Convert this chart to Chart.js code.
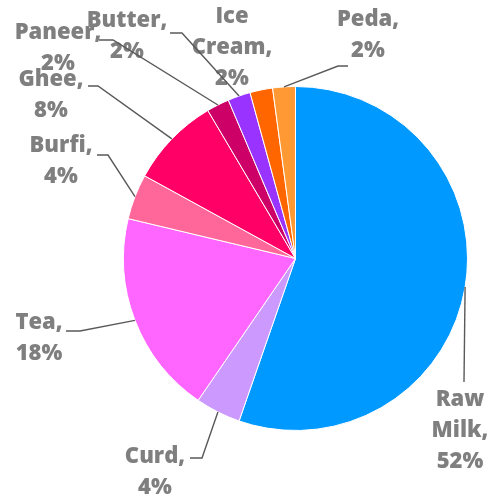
<!DOCTYPE html>
<html>
<head>
<meta charset="utf-8">
<script src="https://cdn.jsdelivr.net/npm/chart.js@4/dist/chart.umd.min.js"></script>
<style>
  body { margin: 0; background: #fff; }
  #wrap { width: 489px; height: 500px; }
</style>
</head>
<body>
<div id="wrap"><canvas id="milkChart" width="489" height="500"></canvas></div>
<script>
const categories = ["Raw Milk", "Curd", "Tea", "Burfi", "Ghee", "Paneer", "Butter", "Ice Cream", "Peda"];
const shares = [52, 4, 18, 4, 8, 2, 2, 2, 2];
const sliceColors = ["#0099FF", "#CC99FF", "#FF66FF", "#FF6699", "#FF0066", "#CC0066", "#9933FF", "#FF6600", "#FF9933"];

// where each data label sits, and the bend of its leader line
const labelSpots = [
    { x: 460, y: 400, bend: [464, 382], end: null },
    { x: 155, y: 457, bend: [202, 458], end: [190, 458] },
    { x: 39,  y: 323, bend: [80, 331],  end: [66, 331] },
    { x: 61,  y: 146, bend: [108, 155], end: [97, 155] },
    { x: 51,  y: 80,  bend: [98, 86],   end: [88, 86] },
    { x: 58,  y: 33,  bend: [113, 40],  end: [99, 40] },
    { x: 127, y: 21,  bend: [182, 33],  end: [170, 33] },
    { x: 232, y: 17,  bend: null,       end: null },
    { x: 368, y: 20,  bend: [338, 66],  end: [348, 66] }
];

function labelLines(name, value) {
    let words = name.split(" ");
    words[words.length - 1] += ",";
    words.push(value + "%");
    return words;
}

const dataLabels = {
    id: "dataLabels",
    afterDraw(chart) {
        let ctx = chart.ctx;
        let arcs = chart.getDatasetMeta(0).data;
        ctx.save();

        // label text
        ctx.fillStyle = "#7F7F7F";
        ctx.font = "800 22px 'Open Sans'";
        ctx.textAlign = "center";
        ctx.textBaseline = "middle";
        categories.forEach((name, i) => {
            let spot = labelSpots[i];
            labelLines(name, shares[i]).forEach((line, k) => {
                ctx.fillText(line, spot.x, spot.y + k * 31);
            });
        });

        // leader lines
        ctx.strokeStyle = "#595959";
        ctx.lineWidth = 1.4;
        arcs.forEach((arc, i) => {
            let spot = labelSpots[i];
            if (!spot.bend) return;
            let p = arc.getProps(["x", "y", "startAngle", "endAngle", "outerRadius"], true);
            let mid = (p.startAngle + p.endAngle) / 2;
            ctx.beginPath();
            ctx.moveTo(p.x + Math.cos(mid) * p.outerRadius, p.y + Math.sin(mid) * p.outerRadius);
            ctx.lineTo(spot.bend[0], spot.bend[1]);
            if (spot.end) ctx.lineTo(spot.end[0], spot.end[1]);
            ctx.stroke();
        });
        ctx.restore();
    }
};

let ctx = document.getElementById("milkChart").getContext("2d");
let milkChart = new Chart(ctx, {
    type: "pie",
    data: {
        labels: categories,
        datasets: [{
            data: shares,
            backgroundColor: sliceColors,
            borderColor: "#ffffff",
            borderWidth: 1,
            hoverOffset: 0
        }]
    },
    options: {
        responsive: false,
        animation: false,
        devicePixelRatio: 1,
        layout: { padding: { left: 123, right: 21, top: 86, bottom: 69 } },
        plugins: {
            legend: { display: false },
            tooltip: { enabled: false }
        }
    },
    plugins: [dataLabels]
});
</script>
</body>
</html>
